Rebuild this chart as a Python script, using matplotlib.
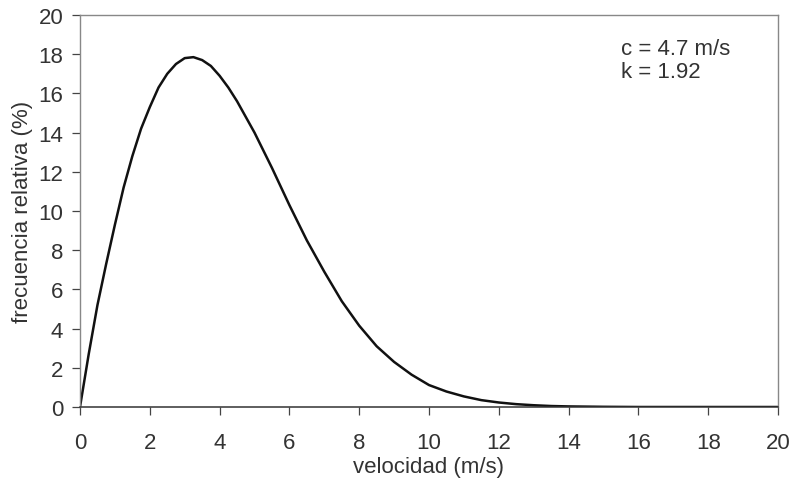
import matplotlib
matplotlib.use("Agg")
import matplotlib.pyplot as plt

# Weibull wind-speed frequency curve (c = 4.7 m/s, k = 1.92), read at fixed speeds
velocidad = [0.0, 0.25, 0.5, 0.75, 1.0, 1.25, 1.5, 1.75, 2.0, 2.25, 2.5, 2.75,
             3.0, 3.25, 3.5, 3.75, 4.0, 4.25, 4.5, 5.0, 5.5, 6.0,
             6.5, 7.0, 7.5, 8.0, 8.5, 9.0, 9.5, 10.0, 10.5, 11.0, 11.5, 12.0,
             12.5, 13.0, 13.5, 14.0, 15.0, 16.0, 17.0, 18.0, 19.0, 20.0]
frecuencia = [0.0, 2.7, 5.2, 7.3, 9.3, 11.2, 12.8, 14.2, 15.3, 16.3, 17.0, 17.5,
              17.8, 17.85, 17.7, 17.4, 16.9, 16.3, 15.6, 14.0, 12.2, 10.3,
              8.5, 6.9, 5.4, 4.15, 3.1, 2.3, 1.65, 1.12, 0.79, 0.54, 0.35, 0.23,
              0.145, 0.09, 0.05, 0.03, 0.01, 0.0, 0.0, 0.0, 0.0, 0.0]

x_ticks = list(range(0, 21, 2))
y_ticks = list(range(0, 21, 2))

plt.rcParams["font.family"] = ["Liberation Sans", "DejaVu Sans"]
text_color = "#333333"

fig = plt.figure(figsize=(7.93, 4.81), dpi=100)
ax = fig.add_axes([80 / 793, 1 - 408 / 481, 698 / 793, 392 / 481])

ax.plot(velocidad, frecuencia, color="#111111", lw=1.8,
        solid_joinstyle="round", solid_capstyle="round")

ax.set_xlim(0, 20)
ax.set_ylim(0, 20)
ax.set_xticks(x_ticks)
ax.set_yticks(y_ticks)
ax.tick_params(axis="both", direction="out", length=6, width=0.9,
               color="#444444", labelsize=16, labelcolor=text_color)
ax.tick_params(axis="x", pad=12)
ax.tick_params(axis="y", pad=6)

for side in ("top", "right", "left"):
    ax.spines[side].set_color("#888888")
    ax.spines[side].set_linewidth(1.0)
ax.spines["bottom"].set_color("#333333")
ax.spines["bottom"].set_linewidth(1.1)

ax.set_xlabel("velocidad (m/s)", fontsize=16, color=text_color, labelpad=2)
ax.set_ylabel("frecuencia relativa (%)", fontsize=16, color=text_color, labelpad=4)

ax.text(0.775, 0.885, "c = 4.7 m/s\nk = 1.92", transform=ax.transAxes,
        fontsize=16, color=text_color, va="center", ha="left", linespacing=1.15)

fig.savefig("out.png", dpi=100)
